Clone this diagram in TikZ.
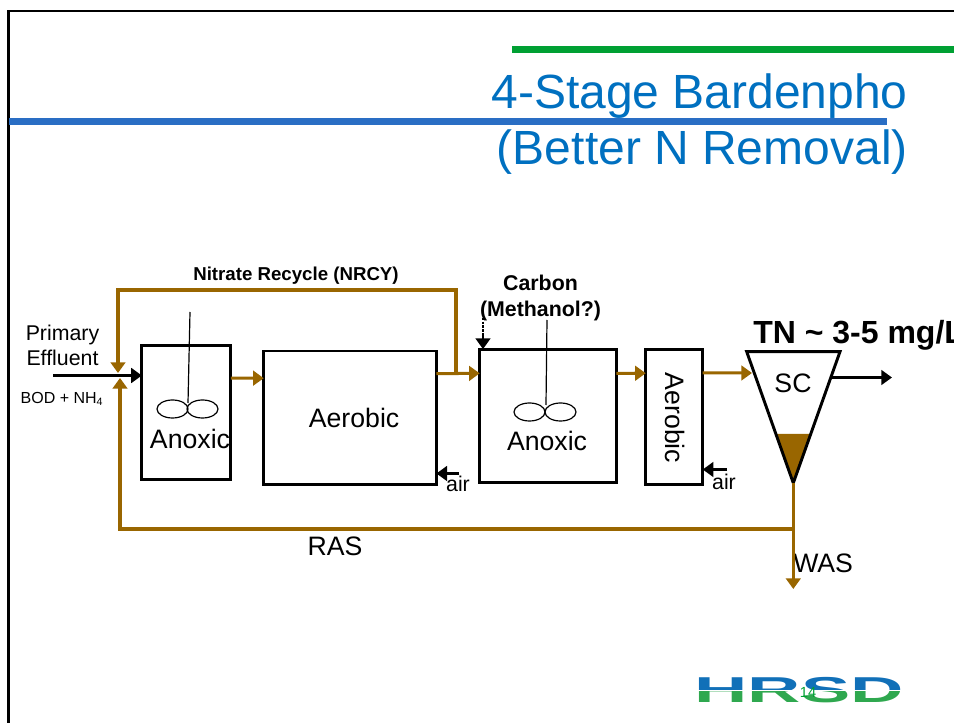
\documentclass[tikz,border=0pt]{standalone}
\usepackage{fontspec}
\setmainfont{Liberation Sans}
\usetikzlibrary{positioning,arrows.meta,calc}
\definecolor{bpbrown}{HTML}{996600}
\definecolor{bpblue}{HTML}{0070C0}
\definecolor{bpbar}{HTML}{2A6EC4}
\definecolor{bpgreen}{HTML}{00A033}
\definecolor{logoblue}{HTML}{1170B8}
\definecolor{logogreen}{HTML}{2FA84F}
\tikzset{
  tank/.style   ={draw=black, line width=2.2pt, inner sep=0pt, outer sep=0pt},
  tlabel/.style ={inner sep=0pt, font=\fontsize{20}{24}\selectfont},
  slabel/.style ={inner sep=0pt, font=\fontsize{16}{18.75}\selectfont, align=center},
  blabel/.style ={inner sep=0pt, font=\bfseries\fontsize{16}{19.5}\selectfont, align=center},
  flow/.style   ={-{Triangle[length=8pt,width=11pt]}, draw=bpbrown, line width=2.26pt},
  feed/.style   ={-{Triangle[length=8pt,width=11pt]}, draw=black, line width=2.3pt},
  mixer/.style  ={draw=black, line width=0.9pt},
  logotext/.style={inner sep=0pt, xscale=2.05, font=\bfseries\fontsize{27}{27}\selectfont},
}
\begin{document}
\begin{tikzpicture}[x=0.75pt,y=-0.75pt]
    \useasboundingbox (0,0) rectangle (954,723);
    \draw[line width=2pt] (8.5,723) -- (8.5,11) -- (954,11);
    \fill[bpgreen] (512,46) rectangle (954,53);
    \node[anchor=east,inner sep=0pt,text=bpblue,align=right,font=\fontsize{36}{42}\selectfont] (title) at (908,124) {4-Stage Bardenpho\\(Better N Removal)};
    \fill[bpbar] (9,118) rectangle (887,125);

    \node[tank,minimum width=66.8pt,minimum height=100.5pt] (anoxA) at (186.4,412.7) {};
    \node[tank,minimum width=129.5pt,minimum height=100pt,right=24.6pt of anoxA,yshift=-3.75pt] (aerobA) {};
    \node[tank,minimum width=102.5pt,minimum height=100.3pt,right=32.5pt of aerobA,yshift=1.3pt] (anoxB) {};
    \node[tank,minimum width=42.75pt,minimum height=100.7pt,right=22pt of anoxB,yshift=-0.75pt] (aerobB) {};

    \node[tlabel] (anoxAtxt) at ($(anoxA)+(3.6,26)$) {Anoxic};
    \node[tlabel] (aerobAtxt) at ($(aerobA)+(4,0)$) {Aerobic};
    \node[tlabel] (anoxBtxt) at ($(anoxB)+(-1,25)$) {Anoxic};
    \node[tlabel,rotate=-90] (aerobBtxt) at ($(aerobB)+(0.5,1)$) {Aerobic};

    \draw[mixer] (190,312) -- (188,403);
    \draw[mixer] (172.5,409) ellipse (15.5 and 9);
    \draw[mixer] (202.5,409) ellipse (15.5 and 9);
    \draw[mixer] (547,320) -- (546,405);
    \draw[mixer] (529.5,412) ellipse (15.5 and 9);
    \draw[mixer] (560.5,412) ellipse (15.5 and 9);

    \coordinate (scL) at (746.7,351.7);
    \coordinate (scR) at (840,351.7);
    \coordinate (scB) at (793.3,483);
    \fill[bpbrown] (776.7,434) -- (810,434) -- (scB) -- cycle;
    \draw[tank,line join=miter] (scL) -- (scR) -- (scB) -- cycle;
    \node[tlabel] (sc) at (793,383) {SC};

    \node[slabel] (primary) at (62.5,345.5) {Primary\\Effluent};
    \node[inner sep=0pt,font=\fontsize{12}{14}\selectfont] (bod) at (62,399) {BOD + NH\textsubscript{4}};
    \node[inner sep=0pt,font=\bfseries\fontsize{14}{16}\selectfont] (nitrate) at (296,275.5) {Nitrate Recycle (NRCY)};
    \node[blabel] (carbon) at (540.5,297.5) {Carbon\\(Methanol?)};
    \node[inner sep=0pt,anchor=west,font=\bfseries\fontsize{24}{28}\selectfont] (tn) at (753,335) {TN \textasciitilde{} 3-5 mg/L};
    \node[tlabel] (ras) at (335,546) {RAS};
    \node[tlabel,anchor=west] (was) at (793,563) {WAS};
    \node[slabel] (airA) at (458,484) {air};
    \node[slabel] (airB) at (724,482) {air};

    \coordinate (feedIn) at (53,375.5);
    \coordinate (nrcyTap) at (456,373);
    \coordinate (nrcyTop) at (118,290);
    \coordinate (nrcyEnd) at (118,373);
    \coordinate (rasTap) at (793.3,529);
    \coordinate (rasEnd) at (120,378);
    \coordinate (scIn) at (752,373);
    \coordinate (scOut) at (832,377.5);
    \coordinate (effluent) at (892,377.5);
    \coordinate (wasEnd) at (793.3,589);
    \coordinate (airAin) at (459,473.5);
    \coordinate (airBin) at (727,469.5);
    \coordinate (carbonIn) at (483,318);

    \draw[flow] (nrcyTap) |- (nrcyTop) -- (nrcyEnd);
    \draw[flow] (rasTap) -| (rasEnd);
    \draw[feed] (feedIn) -- (feedIn -| anoxA.west);
    \draw[flow] ([yshift=26pt]anoxA.east) -- ([yshift=29.6pt]aerobA.west);
    \draw[flow] ([yshift=33pt]aerobA.east) -- ([yshift=32pt]anoxB.west);
    \draw[flow] ([yshift=32pt]anoxB.east) -- ([yshift=32.8pt]aerobB.west);
    \draw[flow] ([yshift=33pt]aerobB.east) -- (scIn);
    \draw[feed,line width=1.9pt] (scOut) -- (effluent);
    \draw[flow,line width=1.9pt] (scB) -- (wasEnd);
    \draw[feed] (airAin) -- (airAin -| aerobA.east);
    \draw[feed] (airBin) -- (airBin -| aerobB.east);
    \draw[line width=1.8pt,densely dotted] (carbonIn) -- ($(carbonIn)+(0,16)$) coordinate (carbonTip);
    \draw[feed,line width=1.5pt] (carbonTip) -- (carbonTip |- anoxB.north);

    \begin{scope}
      \clip (690,670) rectangle (910,689.5);
      \node[logotext,text=logoblue] (logotop) at (799,690) {HRSD};
    \end{scope}
    \begin{scope}
      \clip (690,691.5) rectangle (910,710);
      \node[logotext,text=logogreen] (logobot) at (799,690) {HRSD};
    \end{scope}
    \node[inner sep=0pt,text=bpgreen,font=\fontsize{11}{13}\selectfont] (pagenum) at (808,692) {14};
\end{tikzpicture}
\end{document}
